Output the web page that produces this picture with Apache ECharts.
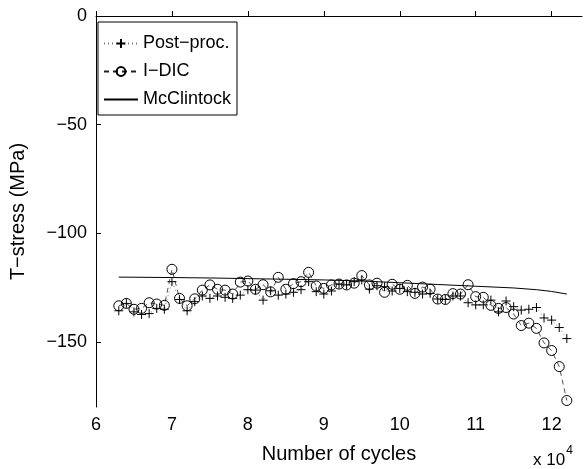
<!DOCTYPE html>
<html>
<head>
<meta charset="utf-8">
<script src="https://cdn.jsdelivr.net/npm/echarts@6/dist/echarts.min.js"></script>
<style>
html,body{margin:0;padding:0;background:#fff;}
#chart{width:585px;height:469px;}
</style>
</head>
<body>
<div id="chart"></div>
<script>
// x in units of 10^4 cycles
const cycles = [6.3,6.4,6.5,6.6,6.7,6.8,6.9,7.0,7.1,7.2,7.3,7.4,7.5,7.6,7.7,7.8,7.9,8.0,8.1,8.2,
  8.3,8.4,8.5,8.6,8.7,8.8,8.9,9.0,9.1,9.2,9.3,9.4,9.5,9.6,9.7,9.8,9.9,10.0,10.1,10.2,
  10.3,10.4,10.5,10.6,10.7,10.8,10.9,11.0,11.1,11.2,11.3,11.4,11.5,11.6,11.7,11.8,11.9,12.0,12.1,12.2];
const postProc = [-135.7,-132.3,-136.2,-137.4,-137.0,-134.6,-135.0,-122.3,-130.5,-135.7,
  -131.5,-128.9,-130.0,-128.9,-129.5,-130.0,-128.5,-126.0,-126.2,-130.8,
  -126.5,-128.5,-128.0,-127.2,-126.0,-122.3,-126.9,-128.0,-126.6,-123.4,
  -123.8,-122.3,-121.5,-125.7,-124.2,-124.6,-126.6,-125.4,-126.9,-127.2,
  -128.0,-127.7,-130.3,-130.5,-128.9,-128.9,-132.0,-133.0,-133.0,-130.8,
  -136.2,-131.2,-133.8,-135.4,-135.0,-134.2,-139.0,-140.0,-143.4,-148.5];
const iDIC = [-133.4,-132.3,-135.0,-134.6,-132.0,-132.6,-133.2,-116.6,-130.0,-133.4,
  -130.2,-126.2,-123.8,-125.8,-126.2,-128.0,-122.5,-122.0,-125.8,-123.7,
  -127.0,-120.3,-125.8,-123.2,-122.3,-118.0,-124.3,-125.4,-123.8,-123.4,
  -123.8,-123.0,-119.5,-123.8,-123.0,-127.2,-123.5,-125.8,-124.0,-127.7,
  -124.8,-125.8,-130.3,-130.5,-127.8,-128.0,-123.7,-129.2,-129.5,-133.2,
  -134.6,-134.2,-137.2,-142.5,-141.4,-143.8,-150.5,-154.0,-161.4,-177.0];
const mcX = [6.3,7.0,7.5,8.0,8.5,9.0,9.5,10.0,10.5,11.0,11.5,11.8,12.0,12.2];
const mcY = [-120.2,-120.4,-120.6,-120.9,-121.2,-121.5,-122.0,-122.8,-123.6,-124.4,-125.2,-126.0,-126.8,-128.0];
const xTicks = [6,7,8,9,10,11,12];
const yTicks = [0,-50,-100,-150];
const legendNames = ['Post\u2212proc.','I\u2212DIC','McClintock'];

const FONT = 'Liberation Sans, Arial, Helvetica, sans-serif';
const pair = (xs, ys) => xs.map((x, i) => [x, ys[i]]);
const minus = v => String(v).replace('-', '\u2212');

const chart = echarts.init(document.getElementById('chart'), null, {renderer: 'canvas'});
chart.setOption({
  backgroundColor: '#fff',
  animation: false,
  textStyle: {fontFamily: FONT},
  grid: {left: 92, right: 3, top: 16, bottom: 62, containLabel: false},
  xAxis: {
    type: 'value', min: 6, max: 12.4,
    name: 'Number of cycles', nameLocation: 'middle', nameGap: 37,
    nameTextStyle: {fontFamily: FONT, fontSize: 20, color: '#000'},
    axisLine: {show: true, lineStyle: {color: '#000', width: 1}},
    axisTick: {show: true, inside: true, length: 5, customValues: xTicks, lineStyle: {color: '#000'}},
    axisLabel: {customValues: xTicks, fontFamily: FONT, fontSize: 18, color: '#000', margin: 9, formatter: minus},
    splitLine: {show: false}
  },
  yAxis: {
    type: 'value', min: -180, max: 0,
    name: 'T\u2212stress (MPa)', nameLocation: 'middle', nameGap: 68, nameRotate: 90,
    nameTextStyle: {fontFamily: FONT, fontSize: 20, color: '#000'},
    axisLine: {show: true, onZero: false, lineStyle: {color: '#000', width: 1}},
    axisTick: {show: true, inside: true, length: 5, customValues: yTicks, lineStyle: {color: '#000'}},
    axisLabel: {customValues: yTicks, fontFamily: FONT, fontSize: 18, color: '#000', margin: 9, formatter: minus},
    splitLine: {show: false}
  },
  legend: {
    data: legendNames,
    orient: 'vertical', left: 98, top: 22,
    itemWidth: 34, itemHeight: 11, itemGap: 9,
    padding: [12, 6, 6, 5],
    borderColor: '#000', borderWidth: 1, backgroundColor: '#fff',
    textStyle: {fontFamily: FONT, fontSize: 18, color: '#000', lineHeight: 19, padding: [0,0,0,0]}
  },
  graphic: [{
    type: 'text', left: 533, top: 445,
    style: {
      text: '{a|x 10}{s|4}',
      rich: {
        a: {fontFamily: FONT, fontSize: 17, fill: '#000', padding: [8,0,0,0]},
        s: {fontFamily: FONT, fontSize: 12, fill: '#000', padding: [0,0,10,1]}
      }
    }
  }],
  series: [
    {
      name: legendNames[1], type: 'line', data: pair(cycles, iDIC),
      symbol: 'circle', symbolSize: 10, showAllSymbol: true,
      lineStyle: {color: '#222', width: 0.8, type: [5, 4]},
      itemStyle: {color: 'rgba(0,0,0,0)', borderColor: '#000', borderWidth: 1},
      z: 2
    },
    {
      name: legendNames[0], type: 'line', data: pair(cycles, postProc),
      symbol: 'path://M5,0 L5,10 M0,5 L10,5', symbolSize: 9, showAllSymbol: true,
      lineStyle: {color: '#777', width: 1, type: [1, 3]},
      itemStyle: {color: 'rgba(0,0,0,0)', borderColor: '#000', borderWidth: 1},
      z: 3
    },
    {
      name: legendNames[2], type: 'line', data: pair(mcX, mcY),
      symbol: 'circle', showSymbol: false, symbolSize: 0,
      lineStyle: {color: '#000', width: 1, type: 'solid'},
      itemStyle: {color: 'rgba(0,0,0,0)', borderColor: 'rgba(0,0,0,0)', borderWidth: 0},
      z: 4
    }
  ]
});
</script>
</body>
</html>
